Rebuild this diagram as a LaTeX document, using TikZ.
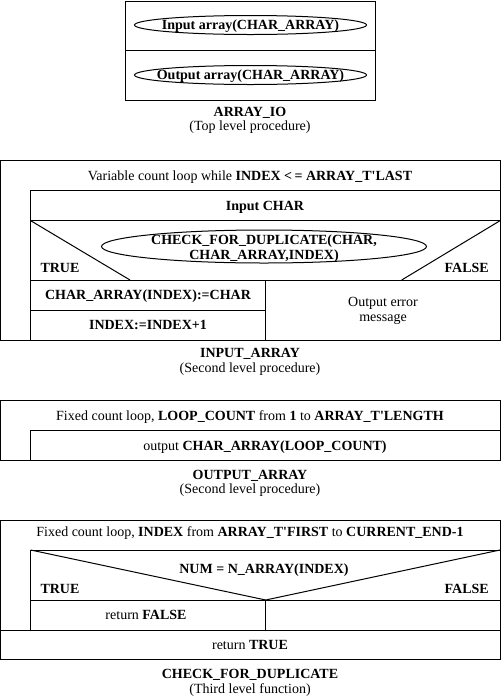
\documentclass[tikz,border=0pt]{standalone}
\usepackage{fontspec}
\setmainfont{Liberation Serif}
\usetikzlibrary{shapes.geometric}
\begin{document}
\begin{tikzpicture}[x=1pt,y=-1pt,line width=1pt,
  txt/.style={anchor=base,inner sep=0pt,font=\fontsize{14}{15}\selectfont},
  btxt/.style={txt,font=\fontsize{14}{15}\selectfont\bfseries},
  oval/.style={draw=black,line width=1pt,ellipse,inner sep=0pt},
  frame/.style={draw=black,line width=1pt}]
\useasboundingbox (0,0) rectangle (501,697);
% ---------- ARRAY_IO
\draw[frame] (125,1) rectangle (375,100);
\draw[frame] (125,50.5) -- (375,50.5);
\node[oval,minimum width=232pt,minimum height=19pt] (e1) at (250.5,25) {};
\node[oval,minimum width=232pt,minimum height=19pt] (e2) at (250.5,75) {};
\node[btxt] (in) at (250.5,29.5) {Input array(CHAR\_ARRAY)};
\node[btxt] (out) at (250.5,79.5) {Output array(CHAR\_ARRAY)};
\node[btxt] (l1a) at (250,116) {ARRAY\_IO};
\node[txt] (l1b) at (250,130.5) {(Top level procedure)};
% ---------- INPUT_ARRAY
\draw[frame] (0.7,160.3) rectangle (500,340);
\draw[frame] (30.7,340) -- (30.7,190.3) -- (500,190.3);
\draw[frame] (30.7,220.7) -- (500,220.7);
\draw[frame] (30.7,280) -- (500,280);
\draw[frame] (30.7,220.7) -- (130,280);
\draw[frame] (500,220.7) -- (401.7,280);
\node[oval,minimum width=325pt,minimum height=33pt] (e3) at (264,246.5) {};
\draw[frame] (265.7,280) -- (265.7,340);
\draw[frame] (30.7,310) -- (265.7,310);
\node[txt] (t2) at (250,180) {Variable count loop while \textbf{INDEX <\,= ARRAY\_T\textquotesingle LAST}};
\node[btxt] (ic) at (265,210) {Input CHAR};
\node[btxt] (cd1) at (264,244.5) {CHECK\_FOR\_DUPLICATE(CHAR,};
\node[btxt] (cd2) at (264,259.5) {CHAR\_ARRAY,INDEX)};
\node[btxt] (tr2) at (60,272.5) {TRUE};
\node[btxt] (fa2) at (466.7,272.5) {FALSE};
\node[btxt] (as1) at (148,299.5) {CHAR\_ARRAY(INDEX):=CHAR};
\node[btxt] (as2) at (148,329.5) {INDEX:=INDEX+1};
\node[txt] (oe1) at (383,306) {Output error};
\node[txt] (oe2) at (383,321) {message};
\node[btxt] (l2a) at (250,357) {INPUT\_ARRAY};
\node[txt] (l2b) at (250,372.5) {(Second level procedure)};
% ---------- OUTPUT_ARRAY
\draw[frame] (0.7,400.7) rectangle (500,460.3);
\draw[frame] (30.7,460.3) -- (30.7,430.3) -- (500,430.3);
\node[txt] (t3) at (250,420) {Fixed count loop, \textbf{LOOP\_COUNT} from \textbf{1} to \textbf{ARRAY\_T\textquotesingle LENGTH}};
\node[txt] (oc) at (265,450) {output \textbf{CHAR\_ARRAY(LOOP\_COUNT)}};
\node[btxt] (l3a) at (250,479) {OUTPUT\_ARRAY};
\node[txt] (l3b) at (250,493.5) {(Second level procedure)};
% ---------- CHECK_FOR_DUPLICATE
\draw[frame] (0.7,520) rectangle (500,659);
\draw[frame] (30.7,630) -- (30.7,550) -- (500,550);
\draw[frame] (30.7,550) -- (265.7,600) -- (500,550);
\draw[frame] (30.7,600) -- (500,600);
\draw[frame] (265.7,600) -- (265.7,630);
\draw[frame] (0.7,630) -- (500,630);
\node[txt] (t4) at (250,536.5) {Fixed count loop, \textbf{INDEX} from \textbf{ARRAY\_T\textquotesingle FIRST} to \textbf{CURRENT\_END-1}};
\node[btxt] (num) at (264,573) {NUM = N\_ARRAY(INDEX)};
\node[btxt] (tr4) at (60,593) {TRUE};
\node[btxt] (fa4) at (466.7,593) {FALSE};
\node[txt] (rf) at (146,619.5) {return \textbf{FALSE}};
\node[txt] (rt) at (250,649) {return \textbf{TRUE}};
\node[btxt] (l4a) at (250,678) {CHECK\_FOR\_DUPLICATE};
\node[txt] (l4b) at (250,693) {(Third level function)};
\end{tikzpicture}
\end{document}
